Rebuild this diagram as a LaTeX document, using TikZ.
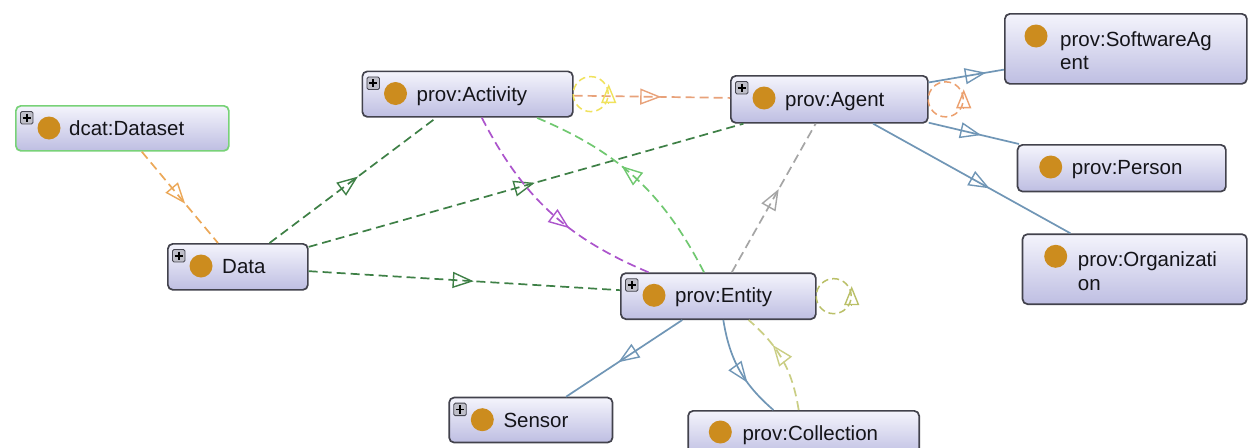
\documentclass[tikz,border=0pt]{standalone}
\usepackage{fontspec}
\setmainfont{Liberation Sans}
\usetikzlibrary{arrows.meta,decorations.markings}

\definecolor{boxtop}{RGB}{244,244,252}
\definecolor{boxbot}{RGB}{190,190,226}
\definecolor{boxborder}{RGB}{66,66,76}
\definecolor{dsborder}{RGB}{120,210,120}
\definecolor{gold}{RGB}{204,140,30}
\definecolor{txt}{RGB}{20,20,25}
\definecolor{plusfill}{RGB}{190,190,200}
\definecolor{plusborder}{RGB}{70,70,80}
\definecolor{cOrange}{RGB}{236,168,88}
\definecolor{cOrangeB}{RGB}{232,162,122}
\definecolor{cDkGreen}{RGB}{62,128,70}
\definecolor{cPurple}{RGB}{172,84,204}
\definecolor{cLtGreen}{RGB}{112,200,112}
\definecolor{cGray}{RGB}{165,165,165}
\definecolor{cYellow}{RGB}{240,226,92}
\definecolor{cOrLoop}{RGB}{236,160,110}
\definecolor{cOlive}{RGB}{186,192,104}
\definecolor{cBlue}{RGB}{112,150,182}
\definecolor{cYelGreen}{RGB}{202,206,132}

\tikzset{
  obox/.style={draw=boxborder, line width=1.7pt, rounded corners=5pt,
    top color=boxtop, bottom color=boxbot, inner sep=0pt, anchor=north west},
  plusbox/.style={draw=plusborder, fill=plusfill, line width=0.9pt, rounded corners=1.5pt,
    minimum size=12.5pt, inner sep=0pt, anchor=north west},
  plusmark/.style={draw=black, line width=1.6pt},
  dot/.style={circle, fill=gold, minimum size=23pt, inner sep=0pt},
  lbl/.style={font=\fontsize{20.5}{23.3}\selectfont, text=txt, inner sep=0pt, anchor=base west},
  lbltwo/.style={lbl, align=left, anchor=north west},
  edge/.style={line width=1.7pt},
  dsh/.style={dash pattern=on 9pt off 5pt},
  midarrow/.style={postaction={decorate}, decoration={markings,
    mark=at position #1 with {\arrow{Triangle[open,length=21pt,width=16pt,line width=1.4pt]}}}},
  loopline/.style={line width=1.5pt, dash pattern=on 7pt off 4pt},
  looptip/.style={line width=1.4pt, -{Triangle[open,length=19pt,width=15pt]}},
}

\begin{document}
\begin{tikzpicture}[x=1pt,y=-1pt]
\clip (0,0) rectangle (1249,447);
\fill[white] (0,0) rectangle (1249,447);

% ---------- boxes ----------
\node[obox, minimum width=213pt, minimum height=45pt, draw=dsborder] (ds) at (15,105) {};
\node[obox, minimum width=210.5pt, minimum height=45.5pt] (act) at (361.5,70.5) {};
\node[obox, minimum width=197pt, minimum height=47pt] (agt) at (730,75) {};
\node[obox, minimum width=242pt, minimum height=70pt] (soft) at (1004,13) {};
\node[obox, minimum width=208.3pt, minimum height=46.7pt] (pers) at (1016.7,144) {};
\node[obox, minimum width=224.3pt, minimum height=70pt] (org) at (1021.7,233.3) {};
\node[obox, minimum width=140pt, minimum height=46pt] (data) at (167,243) {};
\node[obox, minimum width=195pt, minimum height=46pt] (ent) at (620,272.3) {};
\node[obox, minimum width=163.4pt, minimum height=45pt] (sens) at (448.3,396.7) {};
\node[obox, minimum width=231pt, minimum height=46pt] (col) at (687.3,410) {};

% ---------- plus icons ----------
\foreach \n in {ds,act,agt,data,ent,sens}{
  \node[plusbox] (\n-plus) at ([shift={(5,6)}]\n.north west) {};
  \draw[plusmark] ([xshift=2.5pt]\n-plus.west) -- ([xshift=-2.5pt]\n-plus.east)
                  ([yshift=-2.5pt]\n-plus.north) -- ([yshift=2.5pt]\n-plus.south);
}

% ---------- dots ----------
\foreach \n in {ds,act,agt,pers,org,data,ent,sens}{
  \node[dot] (\n-dot) at ([shift={(34,23)}]\n.north west) {};
}
\node[dot] (soft-dot) at ([shift={(32,23)}]soft.north west) {};
\node[dot] (col-dot) at ([shift={(33,22)}]col.north west) {};

% ---------- labels ----------
\node[lbl] (ds-t) at ([shift={(54,30.5)}]ds.north west) {dcat:Dataset};
\node[lbl] (act-t) at ([shift={(55,30.5)}]act.north west) {prov:Activity};
\node[lbl] (agt-t) at ([shift={(55,31)}]agt.north west) {prov:Agent};
\node[lbltwo] (soft-t) at ([shift={(56,18.5)}]soft.north west) {prov:SoftwareAg\\ent};
\node[lbl] (pers-t) at ([shift={(55,30.5)}]pers.north west) {prov:Person};
\node[lbltwo] (org-t) at ([shift={(56,18.5)}]org.north west) {prov:Organizati\\on};
\node[lbl] (data-t) at ([shift={(55,30.5)}]data.north west) {Data};
\node[lbl] (ent-t) at ([shift={(55,30.5)}]ent.north west) {prov:Entity};
\node[lbl] (sens-t) at ([shift={(55,30.5)}]sens.north west) {Sensor};
\node[lbl] (col-t) at ([shift={(55,30)}]col.north west) {prov:Collection};

% ---------- edges ----------
\draw[edge, dsh, color=cOrange, midarrow=0.57] (ds) -- (data);
\draw[edge, dsh, color=cDkGreen, midarrow=0.53] (data) -- (act);
\draw[edge, dsh, color=cDkGreen, midarrow=0.52] (data) -- (agt);
\draw[edge, dsh, color=cDkGreen, midarrow=0.53] (data) -- (ent);
\draw[edge, dsh, color=cOrangeB, midarrow=0.56] (act) -- (agt);
\draw[edge, dsh, color=cPurple, midarrow=0.61] (act) to[bend right=20] (ent);
\draw[edge, dsh, color=cLtGreen, midarrow=0.58] (ent) to[bend right=20] (act);
\draw[edge, dsh, color=cGray, midarrow=0.56] (ent) -- (agt);
\draw[edge, color=cBlue, midarrow=0.76] (agt) -- (soft);
\draw[edge, color=cBlue, midarrow=0.58] (agt) -- (pers);
\draw[edge, color=cBlue, midarrow=0.59] (agt) -- (org);
\draw[edge, color=cBlue, midarrow=0.55] (ent) -- (sens);
\draw[edge, color=cBlue, midarrow=0.64] (ent) to[bend right=20] (col);
\draw[edge, dsh, color=cYelGreen, midarrow=0.67] (col) to[bend right=20] (ent);

% ---------- self loops ----------
\draw[loopline, color=cYellow] ([xshift=17pt]act.east) circle[radius=17.5pt];
\draw[looptip, color=cYellow] ([shift={(35,9)}]act.east) -- ([shift={(35,-10)}]act.east);
\draw[loopline, color=cOrLoop] ([xshift=17pt]agt.east) circle[radius=17.5pt];
\draw[looptip, color=cOrLoop] ([shift={(35,9)}]agt.east) -- ([shift={(35,-10)}]agt.east);
\draw[loopline, color=cOlive] ([xshift=17pt]ent.east) circle[radius=17.5pt];
\draw[looptip, color=cOlive] ([shift={(35,9)}]ent.east) -- ([shift={(35,-10)}]ent.east);
\end{tikzpicture}
\end{document}
